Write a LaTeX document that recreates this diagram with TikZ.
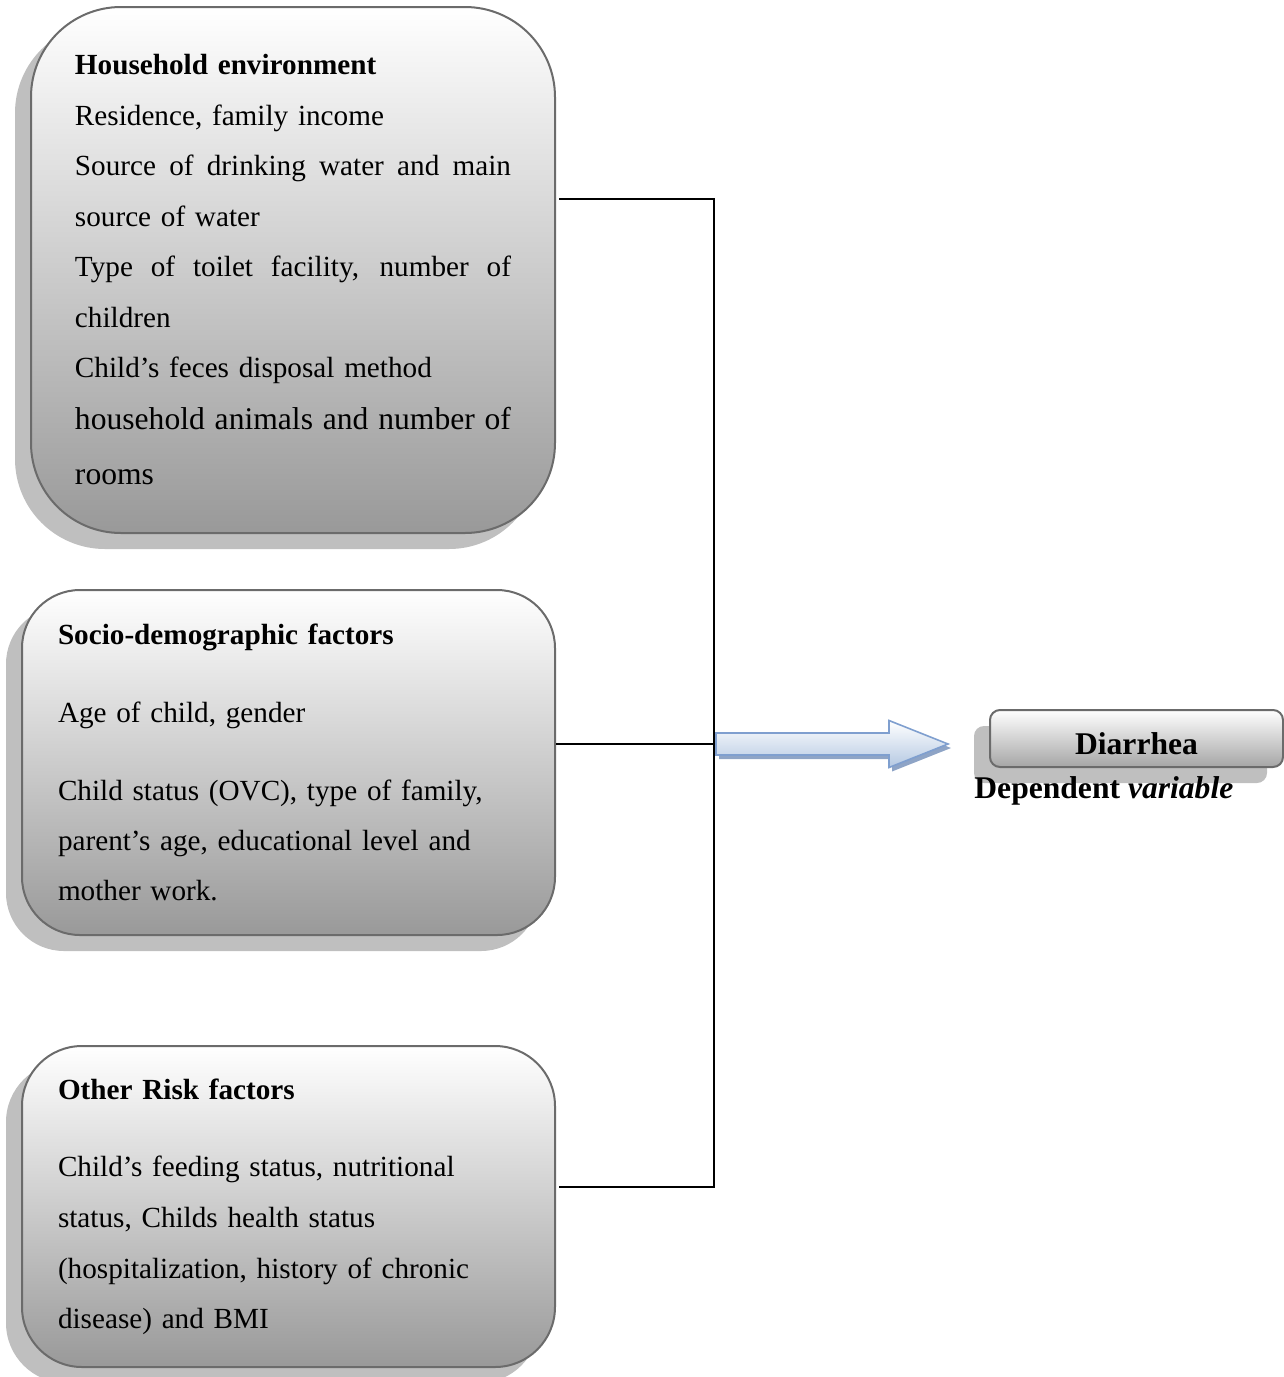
\documentclass[tikz,border=0pt]{standalone}
\usepackage{fontspec}
\setmainfont{Liberation Serif}
\usetikzlibrary{calc}
\usetikzlibrary{shadows}

\definecolor{boxedge}{HTML}{6B6B6B}
\definecolor{boxshade}{HTML}{BFBFBF}
\definecolor{arrowedge}{HTML}{7F9FCF}
\definecolor{arrowfill}{HTML}{B4C8E2}
\definecolor{arrowshadow}{HTML}{8EA4C6}

\newcommand{\fullline}[1]{{\spaceskip=0.25em plus 1fil\makebox[218pt][s]{#1}}}

\tikzset{
  factorbox/.style={draw=boxedge, line width=1pt, top color=white, bottom color=black!40,
    align=left, minimum width=266.5pt, text width=230.5pt, inner xsep=18pt,
    drop shadow={shadow xshift=-8pt, shadow yshift=-8pt, fill=boxshade, opacity=1},
    font=\fontsize{14.6}{25}\selectfont},
  dvbox/.style={draw=boxedge, line width=1pt, rounded corners=5pt, top color=white, bottom color=black!35,
    minimum width=146.5pt, minimum height=28.5pt, text height=15.5pt, text depth=0pt,
    drop shadow={shadow xshift=-8pt, shadow yshift=-8pt, fill=boxshade, opacity=1},
    font=\fontsize{15.8}{19}\selectfont},
  arrowbody/.style={draw=arrowedge, line width=0.8pt, top color=white, bottom color=arrowfill,
    drop shadow={shadow xshift=1.5pt, shadow yshift=-2pt, fill=arrowshadow, opacity=1}},
  link/.style={black, line width=0.9pt}
}

\begin{document}
\begin{tikzpicture}[x=0.5pt, y=-0.5pt]
\useasboundingbox (0,0) rectangle (1284,1377);

\node[factorbox, rounded corners=45pt, minimum width=262pt, text width=218pt, inner xsep=22pt, minimum height=263pt,
  font=\fontsize{14.6}{25.25}\selectfont] (hh) at (293,270) {\textbf{Household environment}\\
Residence, family income\\
\fullline{Source of drinking water and main}\\
source of water\\
\fullline{Type of toilet facility, number of}\\
children\\
Child’s feces disposal method\\[0.5pt]
{\fontsize{15.8}{28}\selectfont\fullline{household animals and number of}}\\[2.5pt]
{\fontsize{15.8}{28}\selectfont rooms}\\[3pt]};

\node[factorbox, rounded corners=29pt, minimum height=172.5pt] (sd) at (288.5,762.5) {\textbf{Socio-demographic factors}\\[14pt]
Age of child, gender\\[14pt]
Child status (OVC), type of family,\\
parent’s age, educational level and\\
mother work.};

\node[factorbox, rounded corners=30pt, minimum height=160.5pt] (rf) at (288.5,1206.5) {\textbf{Other Risk factors}\\[13.5pt]
Child’s feeding status, nutritional\\[0.5pt]
status, Childs health status\\[0.5pt]
(hospitalization, history of chronic\\
disease) and BMI};

\node[dvbox] (dv) at (1136.5,738.5) {\textbf{Diarrhea}};
\node[anchor=base west, font=\fontsize{15.8}{19}\selectfont, inner sep=0pt] (dvlabel) at (974,798) {\textbf{Dependent \textit{variable}}};

\coordinate (vtop) at (714,199);
\coordinate (vbot) at (714,1187);
\coordinate (join) at (714,744);
\coordinate (tip) at (948,744);

\draw[link] ($(hh.east |- vtop)+(3,0)$) -- (vtop) -- (vbot) -- ($(rf.east |- vbot)+(3,0)$);
\draw[link] (sd.east |- join) -- (join);

\draw[arrowbody] ($(join)+(2,-11)$) -- ($(tip)+(-59,-11)$) -- ($(tip)+(-59,-23.5)$) -- (tip) -- ($(tip)+(-59,23.5)$) -- ($(tip)+(-59,11)$) -- ($(join)+(2,11)$) -- cycle;

\end{tikzpicture}
\end{document}
